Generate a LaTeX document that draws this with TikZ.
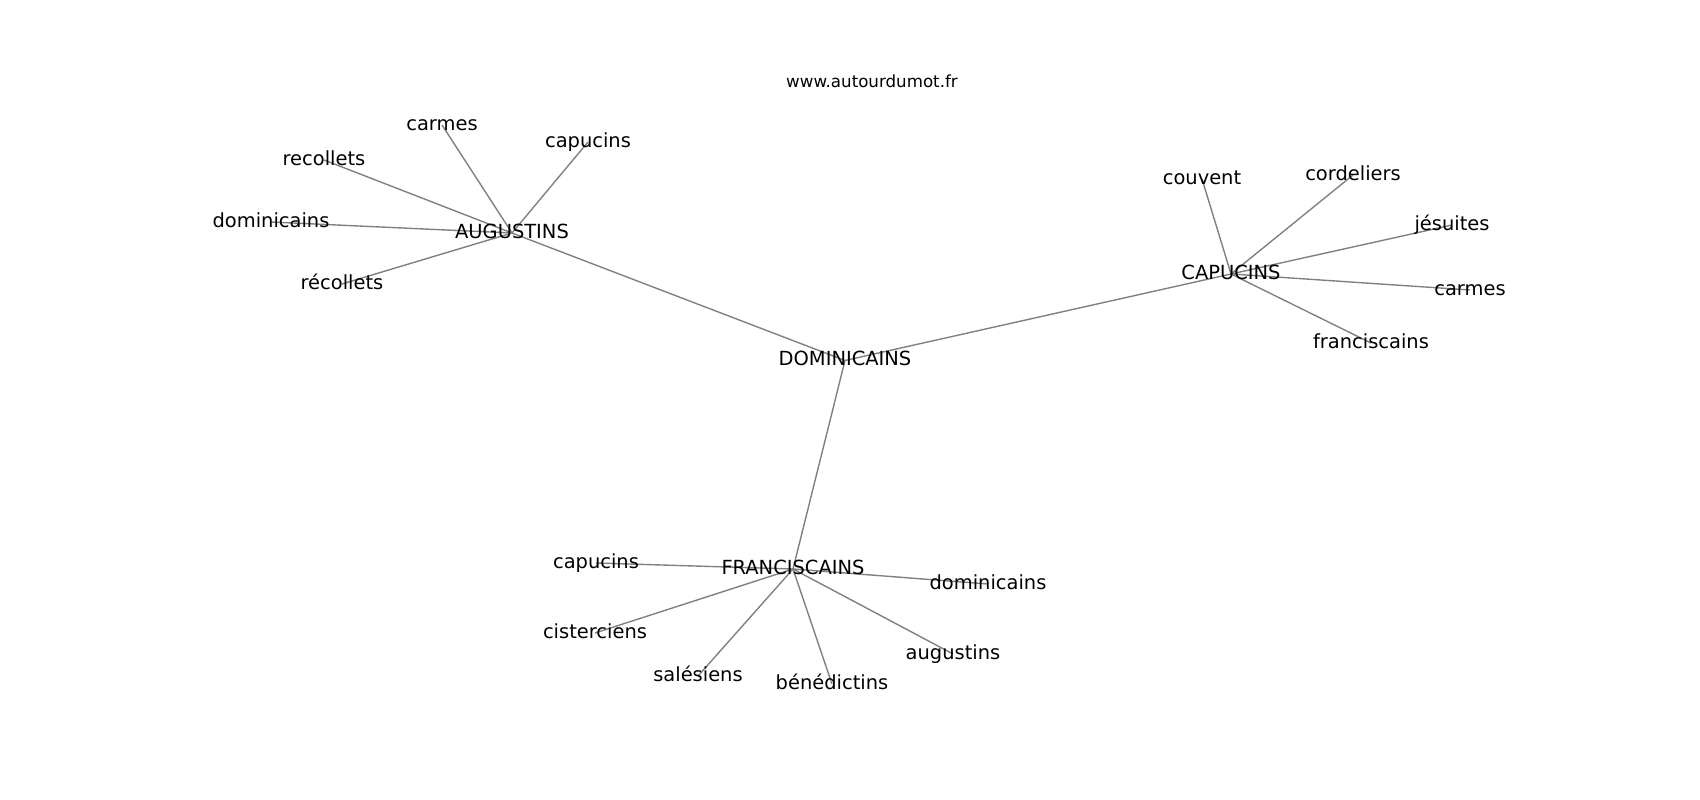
\documentclass[tikz,border=0pt]{standalone}
\usepackage{fontspec}
\setmainfont{DejaVu Sans}
\usetikzlibrary{backgrounds}
\tikzset{
  lbl/.style={inner sep=0pt, text height=10.64bp, text depth=2.91bp, anchor=center,
              font=\fontsize{14bp}{17bp}\selectfont, text=black},
  ttl/.style={inner sep=0pt, text height=9.12bp, text depth=2.5bp, anchor=center,
              font=\fontsize{12bp}{14bp}\selectfont, text=black},
  edge/.style={draw=gray, line width=1bp}
}
\begin{document}
\begin{tikzpicture}[x=0.01in, y=-0.01in]
\useasboundingbox (0,0) rectangle (1700,800);
\node[ttl] (title) at (872,83) {www.autourdumot.fr};
% hubs
\node[lbl] (dom) at (845,360.5) {DOMINICAINS};
\node[lbl] (aug) at (512,233) {AUGUSTINS};
\node[lbl] (cap) at (1231,274) {CAPUCINS};
\node[lbl] (fra) at (793,569) {FRANCISCAINS};
% AUGUSTINS leaves
\node[lbl] (a1) at (442,125) {carmes};
\node[lbl] (a2) at (588,142) {capucins};
\node[lbl] (a3) at (324,160) {recollets};
\node[lbl] (a4) at (271,222) {dominicains};
\node[lbl] (a5) at (342,284) {récollets};
% CAPUCINS leaves
\node[lbl] (c1) at (1202,179) {couvent};
\node[lbl] (c2) at (1353,175) {cordeliers};
\node[lbl] (c3) at (1452,225) {jésuites};
\node[lbl] (c4) at (1470,290) {carmes};
\node[lbl] (c5) at (1371,343) {franciscains};
% FRANCISCAINS leaves
\node[lbl] (f1) at (596,563) {capucins};
\node[lbl] (f2) at (988,584) {dominicains};
\node[lbl] (f3) at (595,633) {cisterciens};
\node[lbl] (f4) at (698,676) {salésiens};
\node[lbl] (f5) at (832,684) {bénédictins};
\node[lbl] (f6) at (953,654) {augustins};
\begin{scope}[on background layer]
\fill[white] (0,0) rectangle (1700,800);
\draw[edge] (dom.center) -- (aug.center);
\draw[edge] (dom.center) -- (cap.center);
\draw[edge] (dom.center) -- (fra.center);
\foreach \n in {a1,a2,a3,a4,a5} \draw[edge] (aug.center) -- (\n.center);
\foreach \n in {c1,c2,c3,c4,c5} \draw[edge] (cap.center) -- (\n.center);
\foreach \n in {f1,f2,f3,f4,f5,f6} \draw[edge] (fra.center) -- (\n.center);
\end{scope}
\end{tikzpicture}
\end{document}
